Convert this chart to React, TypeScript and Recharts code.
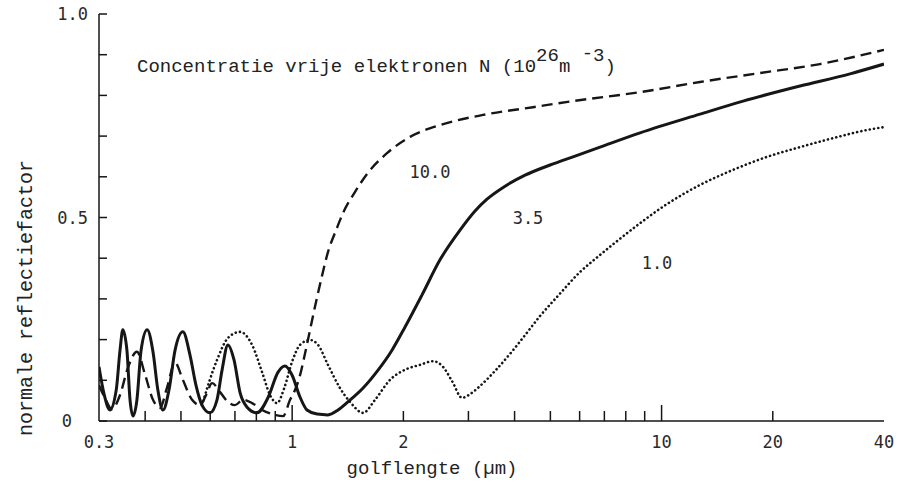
import { LineChart, Line, XAxis, YAxis } from 'recharts';

// golflengte (µm) en reflectiefactor per concentratie N (10^26 m^-3)
const lambdaN10 = [
  0.3, 0.313, 0.325, 0.342, 0.359, 0.38, 0.4, 0.42, 0.439, 0.458, 0.482, 0.506, 0.536,
  0.563, 0.585, 0.607, 0.638, 0.67, 0.7, 0.736, 0.779, 0.829, 0.899, 0.945, 0.987, 1.018,
  1.05, 1.083, 1.118, 1.16, 1.204, 1.25, 1.315, 1.373, 1.48, 1.595, 1.806, 2.085, 2.513,
  3.286, 4.487, 5.758, 8.744, 12.71, 18.47, 26.84, 40,
];
const reflN10 = [
  0.088, 0.052, 0.029, 0.064, 0.13, 0.17, 0.113, 0.052, 0.032, 0.081, 0.143, 0.101, 0.052,
  0.039, 0.064, 0.093, 0.071, 0.047, 0.039, 0.052, 0.044, 0.027, 0.015, 0.012, 0.052, 0.076,
  0.112, 0.165, 0.224, 0.292, 0.356, 0.415, 0.469, 0.511, 0.563, 0.607, 0.658, 0.698, 0.727,
  0.752, 0.771, 0.786, 0.808, 0.833, 0.855, 0.877, 0.912,
];

const lambdaN35 = [
  0.3, 0.31, 0.321, 0.334, 0.342, 0.348, 0.357, 0.364, 0.371, 0.38, 0.39, 0.405, 0.42,
  0.433, 0.447, 0.464, 0.482, 0.506, 0.529, 0.549, 0.57, 0.599, 0.626, 0.646, 0.67, 0.696,
  0.723, 0.755, 0.803, 0.86, 0.916, 0.956, 0.999, 1.05, 1.097, 1.168, 1.25, 1.331, 1.416,
  1.556, 1.708, 1.863, 2.021, 2.247, 2.513, 2.847, 3.126, 3.368, 3.77, 4.27, 4.99, 5.833,
  6.814, 8.744, 12.71, 16.62, 23.7, 32.37, 40,
];
const reflN35 = [
  0.133, 0.064, 0.027, 0.076, 0.174, 0.224, 0.174, 0.052, 0.012, 0.052, 0.174, 0.224, 0.17,
  0.076, 0.027, 0.076, 0.174, 0.219, 0.162, 0.088, 0.039, 0.02, 0.052, 0.125, 0.187, 0.15,
  0.069, 0.034, 0.02, 0.057, 0.12, 0.135, 0.113, 0.059, 0.027, 0.017, 0.015, 0.027, 0.047,
  0.081, 0.125, 0.174, 0.231, 0.31, 0.396, 0.469, 0.516, 0.545, 0.577, 0.604, 0.629, 0.651,
  0.673, 0.708, 0.754, 0.786, 0.823, 0.853, 0.877,
];

const lambdaN1 = [
  0.57, 0.626, 0.67, 0.723, 0.779, 0.829, 0.871, 0.91, 0.951, 0.999, 1.05, 1.118, 1.175,
  1.25, 1.347, 1.434, 1.556, 1.676, 1.84, 2.046, 2.219, 2.406, 2.561, 2.709, 2.883, 3.03,
  3.225, 3.541, 3.962, 4.27, 4.688, 5.212, 6.015, 6.814, 7.576, 8.744, 10.34, 12.71, 15.61,
  19.29, 23.7, 29.12, 35.98, 40,
];
const reflN1 = [
  0.039, 0.15, 0.204, 0.219, 0.187, 0.12, 0.064, 0.044, 0.08, 0.145, 0.187, 0.199, 0.187,
  0.138, 0.081, 0.047, 0.02, 0.052, 0.101, 0.128, 0.138, 0.147, 0.133, 0.098, 0.057, 0.066,
  0.086, 0.123, 0.174, 0.211, 0.258, 0.305, 0.366, 0.408, 0.442, 0.486, 0.533, 0.58, 0.617,
  0.649, 0.673, 0.695, 0.715, 0.722,
];

const xTicks = [0.3, 0.4, 0.5, 0.6, 0.7, 0.8, 0.9, 1, 2, 3, 4, 5, 6, 7, 8, 9, 10, 20, 40];
const xLabels = [0.3, 1, 2, 10, 20, 40];
const yTicks = [0, 0.1, 0.2, 0.3, 0.4, 0.5, 0.6, 0.7, 0.8, 0.9, 1];
const yLabels = ['0', '0.5', '1.0'];

const INK = '#161616';
const TYPE_FONT = '"Liberation Mono", "DejaVu Sans Mono", monospace';
const NUM_FONT = '"DejaVu Sans Mono", monospace';

const toPoints = (xs: number[], ys: number[]) => xs.map((x, i) => ({ x, r: ys[i] }));

const isLong = (v: number) => v === 1 || v === 10;
const yLabelFor = (v: number) => {
  if (Math.abs(v) < 1e-6) return yLabels[0];
  if (Math.abs(v - 0.5) < 1e-6) return yLabels[1];
  if (Math.abs(v - 1) < 1e-6) return yLabels[2];
  return null;
};

function BottomTick({ x, y, payload }: any) {
  const v = payload.value;
  const edge = v === 0.3 || v === 40;
  return (
    <g>
      {!edge && (
        <line x1={x} x2={x} y1={y} y2={y - (isLong(v) ? 16 : 10)} stroke={INK} strokeWidth={1.5} />
      )}
      {xLabels.includes(v) && (
        <text x={x} y={y + 27} textAnchor="middle" fontFamily={NUM_FONT} fontSize={17} fill="#2a2a2a">
          {String(v)}
        </text>
      )}
    </g>
  );
}

function TopTick({ x, y, payload }: any) {
  const v = payload.value;
  if (v === 0.3 || v === 40) return <g />;
  return <line x1={x} x2={x} y1={y} y2={y + (isLong(v) ? 18 : 11)} stroke={INK} strokeWidth={1.5} />;
}

function LeftTick({ x, y, payload }: any) {
  const label = yLabelFor(payload.value);
  const zero = label === '0';
  return (
    <g>
      <line x1={x} x2={x + 8} y1={y} y2={y} stroke={INK} strokeWidth={1.5} />
      {label && (
        <text
          x={zero ? x - 27 : x - 11}
          y={y + 6}
          textAnchor="end"
          fontFamily={NUM_FONT}
          fontSize={17}
          fill="#2a2a2a"
        >
          {label}
        </text>
      )}
    </g>
  );
}

function RightTick({ x, y }: any) {
  return <line x1={x} x2={x - 11} y1={y} y2={y} stroke={INK} strokeWidth={1.5} />;
}

const axisLine = { stroke: INK, strokeWidth: 1.5 };

export default function App() {
  return (
    <div style={{ position: 'absolute', left: 0, top: 0, width: 906, height: 482, background: '#fff' }}>
      <LineChart width={906} height={482} margin={{ top: 14, right: 22, bottom: 0, left: 0 }}>
        <XAxis
          xAxisId="bottom"
          dataKey="x"
          type="number"
          scale="log"
          domain={[0.3, 40]}
          allowDataOverflow
          ticks={xTicks}
          interval={0}
          height={61}
          tickSize={0}
          tickMargin={0}
          tickLine={false}
          axisLine={axisLine}
          tick={(p: any) => <BottomTick {...p} />}
        />
        <XAxis
          xAxisId="top"
          orientation="top"
          dataKey="x"
          type="number"
          scale="log"
          domain={[0.3, 40]}
          allowDataOverflow
          ticks={xTicks}
          interval={0}
          height={0}
          tickSize={0}
          tickMargin={0}
          tickLine={false}
          axisLine={axisLine}
          tick={(p: any) => <TopTick {...p} />}
        />
        <YAxis
          yAxisId="left"
          type="number"
          domain={[0, 1]}
          ticks={yTicks}
          interval={0}
          width={99}
          tickSize={0}
          tickMargin={0}
          tickLine={false}
          axisLine={axisLine}
          tick={(p: any) => <LeftTick {...p} />}
        />
        <YAxis
          yAxisId="right"
          orientation="right"
          type="number"
          domain={[0, 1]}
          ticks={yTicks}
          interval={0}
          width={0}
          tickSize={0}
          tickMargin={0}
          tickLine={false}
          axisLine={axisLine}
          tick={(p: any) => <RightTick {...p} />}
        />
        <Line
          xAxisId="bottom"
          yAxisId="left"
          data={toPoints(lambdaN10, reflN10)}
          dataKey="r"
          type="monotone"
          stroke={INK}
          strokeWidth={2.4}
          strokeDasharray="11 6"
          dot={false}
          activeDot={false}
          isAnimationActive={false}
        />
        <Line
          xAxisId="bottom"
          yAxisId="left"
          data={toPoints(lambdaN1, reflN1)}
          dataKey="r"
          type="monotone"
          stroke={INK}
          strokeWidth={2.6}
          strokeDasharray="0.1 4.2"
          strokeLinecap="round"
          dot={false}
          activeDot={false}
          isAnimationActive={false}
        />
        <Line
          xAxisId="bottom"
          yAxisId="left"
          data={toPoints(lambdaN35, reflN35)}
          dataKey="r"
          type="monotone"
          stroke={INK}
          strokeWidth={3}
          dot={false}
          activeDot={false}
          isAnimationActive={false}
        />
      </LineChart>
      <svg
        width={906}
        height={482}
        style={{ position: 'absolute', left: 0, top: 0, pointerEvents: 'none' }}
      >
        <text x={137} y={72} fontFamily={TYPE_FONT} fontSize={19} fill="#222">
          Concentratie vrije elektronen N (10
          <tspan dy={-11}>26</tspan>
          <tspan dy={11}>m</tspan>
          <tspan dy={-13}> -</tspan>
          <tspan dy={2}>3</tspan>
          <tspan dy={11}>)</tspan>
        </text>
        <text x={430} y={178} textAnchor="middle" fontFamily={NUM_FONT} fontSize={17} fill="#2a2a2a">
          10.0
        </text>
        <text x={528} y={224} textAnchor="middle" fontFamily={NUM_FONT} fontSize={17} fill="#2a2a2a">
          3.5
        </text>
        <text x={657} y={269} textAnchor="middle" fontFamily={NUM_FONT} fontSize={17} fill="#2a2a2a">
          1.0
        </text>
        <text x={432} y={474} textAnchor="middle" fontFamily={TYPE_FONT} fontSize={19} fill="#222">
          golflengte (µm)
        </text>
        <text
          x={26}
          y={298}
          transform="rotate(-90 26 298)"
          textAnchor="middle"
          dominantBaseline="central"
          fontFamily={TYPE_FONT}
          fontSize={20}
          fill="#222"
        >
          normale reflectiefactor
        </text>
      </svg>
    </div>
  );
}
